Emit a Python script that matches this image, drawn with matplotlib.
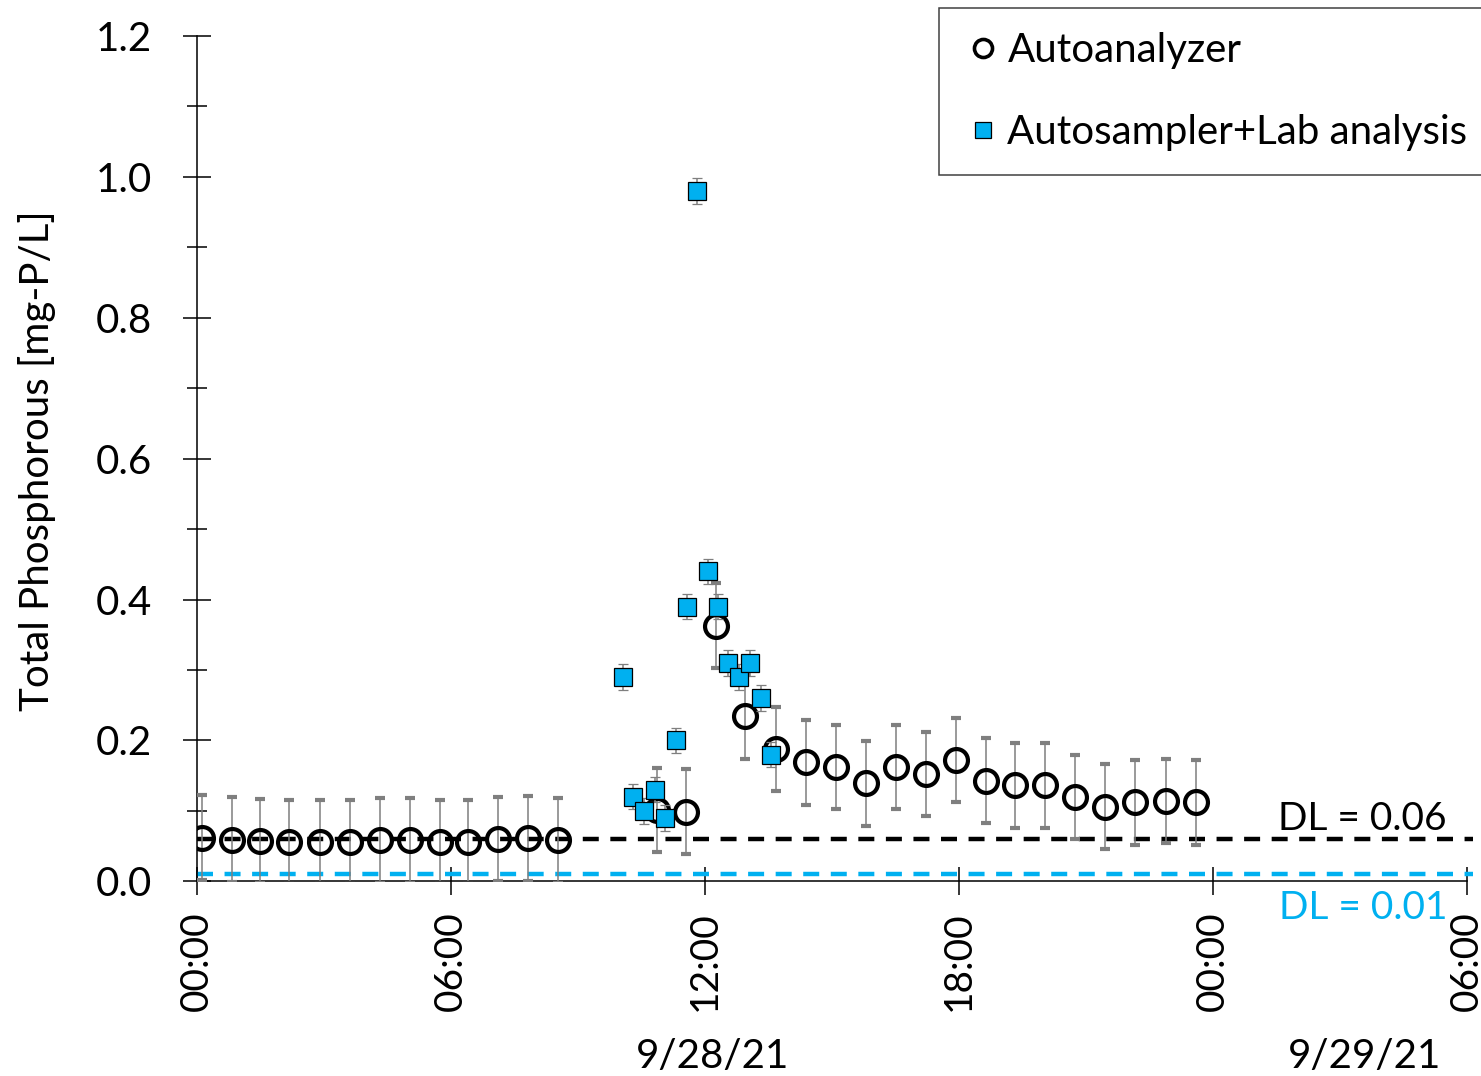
import numpy as np
import matplotlib.pyplot as plt
from matplotlib.lines import Line2D
from matplotlib.ticker import MultipleLocator, FixedLocator

plt.rcParams['font.family'] = ['Lato', 'DejaVu Sans']

# hours since 00:00 on 9/28/21
auto_hours = [0.12, 0.83, 1.50, 2.19, 2.92, 3.63, 4.34, 5.04, 5.75, 6.42, 7.13, 7.84, 8.55,
              10.87, 11.56, 12.27, 12.96, 13.68, 14.40, 15.11, 15.82, 16.53, 17.24, 17.95,
              18.66, 19.34, 20.05, 20.76, 21.47, 22.18, 22.89, 23.61]
auto_tp = [0.062, 0.059, 0.057, 0.056, 0.056, 0.056, 0.058, 0.058, 0.056, 0.056, 0.060, 0.061, 0.058,
           0.101, 0.099, 0.363, 0.234, 0.188, 0.169, 0.162, 0.139, 0.162, 0.152, 0.172,
           0.143, 0.136, 0.136, 0.120, 0.106, 0.112, 0.114, 0.112]
auto_err = 0.06

lab_hours = [10.07, 10.32, 10.56, 10.82, 11.07, 11.33, 11.58, 11.82, 12.08, 12.33, 12.56,
             12.82, 13.08, 13.33, 13.57]
lab_tp = [0.29, 0.12, 0.10, 0.13, 0.09, 0.20, 0.39, 0.98, 0.44, 0.39, 0.31, 0.29, 0.31, 0.26, 0.18]
lab_err = 0.018

dl_auto = 0.06
dl_lab = 0.01

tick_hours = [0, 6, 12, 18, 24, 30]
tick_labels = ['00:00', '06:00', '12:00', '18:00', '00:00', '06:00']
date_labels = ['9/28/21', '9/29/21']
date_hours = [12.18, 27.6]

blue = '#00B0F0'
grey = '#7F7F7F'
fs = 29

W, H = 1481, 1076
fig = plt.figure(figsize=(W / 100, H / 100), dpi=100)
ax = fig.add_axes([196.5 / W, 1 - 881.3 / H, 1270 / W, (881.3 - 36) / H])

ax.errorbar(auto_hours, auto_tp, yerr=auto_err, fmt='o', ms=16.5, mfc='none', mec='black',
            mew=3.0, ecolor=grey, elinewidth=1.1, capsize=3.6, capthick=1.1, zorder=3)
ax.errorbar(lab_hours, lab_tp, yerr=lab_err, fmt='s', ms=13, mfc=blue, mec='black',
            mew=0.9, ecolor=grey, elinewidth=1.1, capsize=3.6, capthick=1.1, zorder=4)

# detection limits
ax.plot([0, 30.15], [dl_auto, dl_auto], color='black', lw=3.2, dashes=(3.6, 2.6),
        clip_on=False, zorder=2)
ax.plot([0, 30.15], [dl_lab, dl_lab], color=blue, lw=3.2, dashes=(3.6, 2.6),
        clip_on=False, zorder=2)
ax.text(29.52, 0.073, f'DL = {dl_auto:.2f}', ha='right', va='baseline', fontsize=28,
        color='black')
ax.text(29.54, -0.054, f'DL = {dl_lab:.2f}', ha='right', va='baseline', fontsize=28,
        color=blue, clip_on=False)

ax.set_xlim(0, 30)
ax.set_ylim(0, 1.2)
for s in ['top', 'right']:
    ax.spines[s].set_visible(False)
for s in ['left', 'bottom']:
    ax.spines[s].set_linewidth(1.1)

ax.yaxis.set_major_locator(MultipleLocator(0.2))
ax.yaxis.set_minor_locator(MultipleLocator(0.1))
ax.yaxis.set_major_formatter(plt.FuncFormatter(lambda v, p: f'{v:.1f}'))
ax.tick_params(axis='y', which='major', direction='inout', length=19.5, width=1.1,
               pad=22, labelsize=fs)
ax.tick_params(axis='y', which='minor', direction='inout', length=15, width=1.1)

ax.xaxis.set_major_locator(FixedLocator(tick_hours))
ax.set_xticklabels(tick_labels, rotation=90)
ax.tick_params(axis='x', which='major', direction='inout', length=19.5, width=1.1,
               pad=12, labelsize=28)

ax.set_ylabel('Total Phosphorous [mg-P/L]', fontsize=fs)
ax.yaxis.set_label_coords((56 - 196.5) / 1270, 0.497)

for lbl, hr in zip(date_labels, date_hours):
    ax.annotate(lbl, xy=(hr, 19), xycoords=('data', 'figure pixels'), ha='center',
                va='center', fontsize=fs, annotation_clip=False)

handles = [
    Line2D([], [], ls='none', marker='o', ms=13, mfc='none', mec='black', mew=2.6),
    Line2D([], [], ls='none', marker='s', ms=11, mfc=blue, mec='black', mew=0.9),
]
leg = ax.legend(handles, ['Autoanalyzer', 'Autosampler+Lab analysis'], loc='upper left',
                bbox_to_anchor=(939 / W, 1 - 8 / H), bbox_transform=fig.transFigure,
                borderaxespad=0, fontsize=fs, handlelength=1.0, handletextpad=0.1,
                borderpad=0.6, labelspacing=1.12, fancybox=False, framealpha=1)
leg.get_frame().set_edgecolor('#404040')
leg.get_frame().set_linewidth(1.1)

fig.savefig('out.png', dpi=100)
